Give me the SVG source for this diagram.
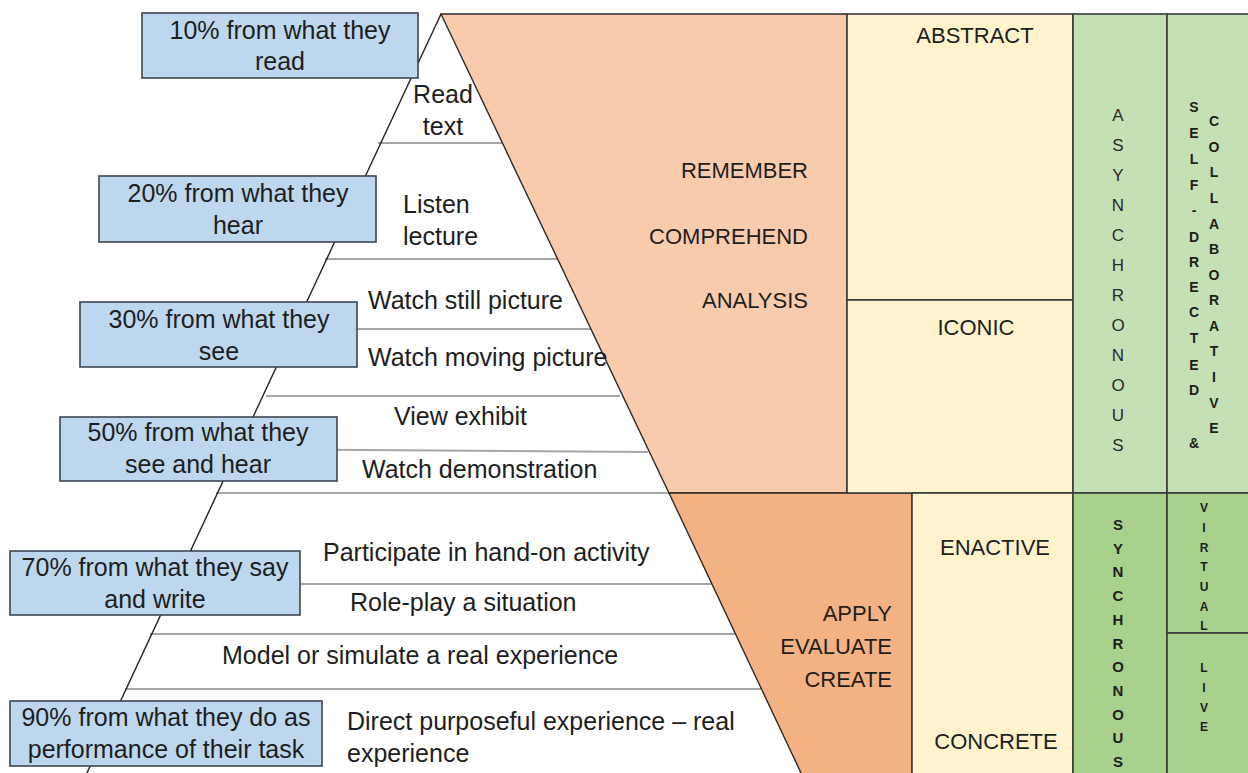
<svg xmlns="http://www.w3.org/2000/svg" width="1248" height="773" viewBox="0 0 1248 773">
<style>
text{font-family:"Liberation Sans",Arial,sans-serif;fill:#1e1e1e}
.t{font-size:25px}
.c{font-size:22px}
.box{fill:#BDD7EE;stroke:#3f4650;stroke-width:1.6}
.cell{stroke:#3a3a3a;stroke-width:1.6}
.hl{stroke:#a6a6a6;stroke-width:2;fill:none}
.edge{stroke:#222;stroke-width:1.4;fill:none}
.v1{font-size:17px;text-anchor:middle;fill:#2a2a2a}
.v2{font-size:14px;font-weight:bold;text-anchor:middle}
.v3{font-size:15px;font-weight:bold;text-anchor:middle}
.v4{font-size:12px;font-weight:bold;text-anchor:middle}
.m{text-anchor:middle}
.e{text-anchor:end}
</style>
<rect width="1248" height="773" fill="#fff"/>

<g id="connectors">
<line class="hl" x1="378" y1="143" x2="503" y2="143"/>
<line class="hl" x1="325" y1="259" x2="560" y2="259"/>
<line class="hl" x1="290" y1="329" x2="594" y2="329"/>
<line class="hl" x1="266" y1="396" x2="620" y2="396"/>
<line class="hl" x1="236" y1="449" x2="648" y2="452"/>
<line class="hl" x1="216" y1="493" x2="670" y2="493"/>
<line class="hl" x1="174" y1="584" x2="714" y2="584"/>
<line class="hl" x1="150" y1="634" x2="738" y2="634"/>
<line class="hl" x1="125" y1="689" x2="764" y2="689"/>
<line class="edge" x1="441" y1="14" x2="86" y2="775"/>
</g>

<g id="remember">
<polygon points="441,14 847,14 847,493 669,493" fill="#F8CBAD" stroke="#2a2a2a" stroke-width="1.4"/>
<text class="c e" x="808" y="178">REMEMBER</text>
<text class="c e" x="808" y="244">COMPREHEND</text>
<text class="c e" x="808" y="308">ANALYSIS</text>
</g>
<g id="apply">
<polygon points="669,493 912,493 912,775 802,775" fill="#F4B183" stroke="#2a2a2a" stroke-width="1.4"/>
<text class="c e" x="892" y="621">APPLY</text>
<text class="c e" x="892" y="654">EVALUATE</text>
<text class="c e" x="892" y="687">CREATE</text>
</g>

<g id="abstract">
<rect class="cell" x="847" y="14" width="226" height="286" fill="#FFF2CC"/>
<text class="c m" x="975" y="43">ABSTRACT</text>
</g>
<g id="iconic">
<rect class="cell" x="847" y="300" width="226" height="193" fill="#FFF2CC"/>
<text class="c m" x="976" y="335">ICONIC</text>
</g>
<g id="enactive">
<rect class="cell" x="912" y="493" width="161" height="282" fill="#FFF2CC"/>
<text class="c m" x="995" y="555">ENACTIVE</text>
<text class="c m" x="996" y="749">CONCRETE</text>
</g>

<g id="asynchronous">
<rect class="cell" x="1073" y="14" width="94" height="479" fill="#C5E0B4"/>
<text class="v1" x="1118" y="121">A</text>
<text class="v1" x="1118" y="151">S</text>
<text class="v1" x="1118" y="181">Y</text>
<text class="v1" x="1118" y="211">N</text>
<text class="v1" x="1118" y="241">C</text>
<text class="v1" x="1118" y="271">H</text>
<text class="v1" x="1118" y="301">R</text>
<text class="v1" x="1118" y="331">O</text>
<text class="v1" x="1118" y="361">N</text>
<text class="v1" x="1118" y="391">O</text>
<text class="v1" x="1118" y="421">U</text>
<text class="v1" x="1118" y="451">S</text>
</g>
<g id="self-directed-collaborative">
<rect class="cell" x="1167" y="14" width="84" height="479" fill="#C5E0B4"/>
<text class="v2" x="1194" y="112">S</text>
<text class="v2" x="1194" y="138">E</text>
<text class="v2" x="1194" y="164">L</text>
<text class="v2" x="1194" y="190">F</text>
<text class="v2" x="1194" y="215">-</text>
<text class="v2" x="1194" y="242">D</text>
<text class="v2" x="1194" y="267">R</text>
<text class="v2" x="1194" y="292">E</text>
<text class="v2" x="1194" y="317">C</text>
<text class="v2" x="1194" y="343">T</text>
<text class="v2" x="1194" y="370">E</text>
<text class="v2" x="1194" y="395">D</text>
<text class="v2" x="1194" y="448">&amp;</text>
<text class="v2" x="1214" y="126">C</text>
<text class="v2" x="1214" y="152">O</text>
<text class="v2" x="1214" y="177">L</text>
<text class="v2" x="1214" y="203">L</text>
<text class="v2" x="1214" y="229">A</text>
<text class="v2" x="1214" y="254">B</text>
<text class="v2" x="1214" y="280">O</text>
<text class="v2" x="1214" y="305">R</text>
<text class="v2" x="1214" y="331">A</text>
<text class="v2" x="1214" y="356">T</text>
<text class="v2" x="1214" y="382">I</text>
<text class="v2" x="1214" y="408">V</text>
<text class="v2" x="1214" y="433">E</text>
</g>
<g id="synchronous">
<rect class="cell" x="1073" y="493" width="94" height="282" fill="#A9D18E"/>
<text class="v3" x="1118" y="530">S</text>
<text class="v3" x="1118" y="554">Y</text>
<text class="v3" x="1118" y="577">N</text>
<text class="v3" x="1118" y="601">C</text>
<text class="v3" x="1118" y="625">H</text>
<text class="v3" x="1118" y="649">R</text>
<text class="v3" x="1118" y="672">O</text>
<text class="v3" x="1118" y="696">N</text>
<text class="v3" x="1118" y="720">O</text>
<text class="v3" x="1118" y="743">U</text>
<text class="v3" x="1118" y="767">S</text>
</g>
<g id="virtual">
<rect class="cell" x="1167" y="493" width="84" height="140" fill="#A9D18E"/>
<text class="v4" x="1204" y="512">V</text>
<text class="v4" x="1204" y="532">I</text>
<text class="v4" x="1204" y="552">R</text>
<text class="v4" x="1204" y="571">T</text>
<text class="v4" x="1204" y="591">U</text>
<text class="v4" x="1204" y="611">A</text>
<text class="v4" x="1204" y="630">L</text>
</g>
<g id="live">
<rect class="cell" x="1167" y="633" width="84" height="142" fill="#A9D18E"/>
<text class="v4" x="1204" y="672">L</text>
<text class="v4" x="1204" y="692">I</text>
<text class="v4" x="1204" y="712">V</text>
<text class="v4" x="1204" y="731">E</text>
</g>

<g id="levels">
<text class="t m" x="443" y="103">Read</text>
<text class="t m" x="443" y="135">text</text>
<text class="t" x="403" y="213">Listen</text>
<text class="t" x="403" y="245">lecture</text>
<text class="t" x="368" y="309">Watch still picture</text>
<text class="t" x="368" y="366">Watch moving picture</text>
<text class="t" x="394" y="425">View exhibit</text>
<text class="t" x="362" y="478">Watch demonstration</text>
<text class="t" x="323" y="561">Participate in hand-on activity</text>
<text class="t" x="350" y="611">Role-play a situation</text>
<text class="t" x="222" y="664">Model or simulate a real experience</text>
<text class="t" x="347" y="730">Direct purposeful experience – real</text>
<text class="t" x="347" y="762">experience</text>
</g>

<g id="box10">
<rect class="box" x="142" y="13" width="276" height="65"/>
<text class="t m" x="280" y="39">10% from what they</text>
<text class="t m" x="280" y="70">read</text>
</g>
<g id="box20">
<rect class="box" x="99" y="176" width="277" height="66"/>
<text class="t m" x="238" y="202">20% from what they</text>
<text class="t m" x="238" y="234">hear</text>
</g>
<g id="box30">
<rect class="box" x="80" y="302" width="277" height="65"/>
<text class="t m" x="219" y="328">30% from what they</text>
<text class="t m" x="219" y="360">see</text>
</g>
<g id="box50">
<rect class="box" x="60" y="417" width="277" height="64"/>
<text class="t m" x="198" y="441">50% from what they</text>
<text class="t m" x="198" y="473">see and hear</text>
</g>
<g id="box70">
<rect class="box" x="10" y="551" width="290" height="64"/>
<text class="t m" x="155" y="576">70% from what they say</text>
<text class="t m" x="155" y="608">and write</text>
</g>
<g id="box90">
<rect class="box" x="10" y="701" width="312" height="65"/>
<text class="t m" x="166" y="726">90% from what they do as</text>
<text class="t m" x="166" y="758">performance of their task</text>
</g>
</svg>
